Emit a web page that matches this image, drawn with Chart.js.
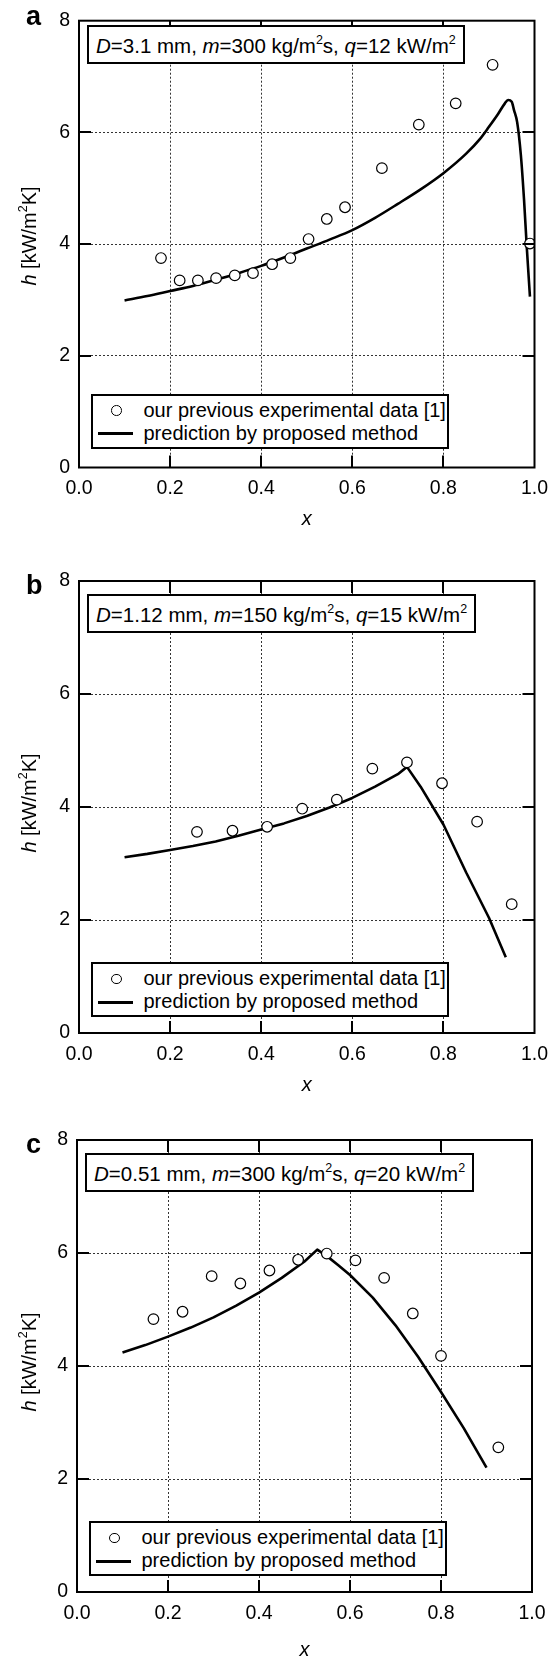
<!DOCTYPE html>
<html>
<head>
<meta charset="utf-8">
<script src="https://cdn.jsdelivr.net/npm/chart.js@4/dist/chart.umd.min.js"></script>
<style>
html,body{margin:0;padding:0;background:#fff;}
#wrap{position:relative;width:560px;height:1662px;overflow:hidden;font-family:"Liberation Sans",Arial,Helvetica,sans-serif;color:#000;}
#wrap canvas{position:absolute;left:0;}
.ov{position:absolute;white-space:nowrap;z-index:2;}
.cond{border:2px solid #000;background:#fff;box-sizing:border-box;height:39px;padding:3px 7px 0 7px;line-height:32px;font-size:20.5px;}
.leg{border:2px solid #000;background:#fff;box-sizing:border-box;width:358px;height:55px;font-size:20px;}
.leg .t{position:absolute;left:51px;line-height:20px;}
.leg .c{position:absolute;width:10.6px;height:10.6px;border:1.2px solid #000;border-radius:50%;box-sizing:border-box;background:#fff;}
.leg .l{position:absolute;width:35px;height:3px;background:#000;}
.sup{font-size:12.5px;position:relative;top:-0.7em;line-height:0;}
.ytitle{font-size:20px;transform:translate(-50%,-50%) rotate(-90deg);}
.letter{font-size:27px;font-weight:bold;line-height:27px;}
</style>
</head>
<body>
<div id="wrap"></div>
<script>
// ---------------- DATA ----------------
const panelLetters = ['a', 'b', 'c'];
const condD = ['3.1', '1.12', '0.51'];
const condM = ['300', '150', '300'];
const condQ = ['12', '15', '20'];
const legendLabels = ['our previous experimental data [1]', 'prediction by proposed method'];
const xTickLabels = ['0.0', '0.2', '0.4', '0.6', '0.8', '1.0'];
const yTickLabels = ['0', '2', '4', '6', '8'];
const xTitle = 'x';

// panel a
const expXA = [0.180, 0.221, 0.261, 0.301, 0.342, 0.382, 0.424, 0.464, 0.504, 0.544, 0.584, 0.665, 0.746, 0.827, 0.908, 0.990];
const expHA = [3.75, 3.35, 3.35, 3.39, 3.44, 3.48, 3.64, 3.75, 4.09, 4.45, 4.66, 5.36, 6.14, 6.52, 7.21, 4.01];
const predXA = [0.10, 0.15, 0.20, 0.25, 0.30, 0.35, 0.40, 0.45, 0.50, 0.55, 0.60, 0.65, 0.70, 0.75, 0.80, 0.85, 0.88, 0.90, 0.92, 0.935, 0.942, 0.950, 0.955, 0.962, 0.970, 0.977, 0.983, 0.990];
const predHA = [2.99, 3.07, 3.16, 3.25, 3.36, 3.48, 3.61, 3.76, 3.92, 4.08, 4.25, 4.47, 4.72, 4.98, 5.27, 5.62, 5.88, 6.10, 6.33, 6.52, 6.58, 6.55, 6.40, 6.18, 5.60, 4.80, 3.95, 3.06];

// panel b
const expXB = [0.259, 0.337, 0.413, 0.490, 0.566, 0.644, 0.720, 0.797, 0.874, 0.950];
const expHB = [3.56, 3.58, 3.65, 3.97, 4.13, 4.68, 4.79, 4.42, 3.74, 2.28];
const predXB = [0.10, 0.15, 0.20, 0.25, 0.30, 0.35, 0.40, 0.45, 0.50, 0.55, 0.60, 0.65, 0.70, 0.72, 0.75, 0.80, 0.85, 0.90, 0.937];
const predHB = [3.11, 3.17, 3.24, 3.31, 3.39, 3.49, 3.60, 3.71, 3.84, 3.99, 4.16, 4.36, 4.58, 4.71, 4.36, 3.69, 2.84, 2.04, 1.34];

// panel c
const expXC = [0.168, 0.232, 0.296, 0.359, 0.423, 0.486, 0.549, 0.612, 0.675, 0.738, 0.800, 0.926];
const expHC = [4.83, 4.96, 5.59, 5.46, 5.69, 5.88, 5.99, 5.87, 5.56, 4.93, 4.18, 2.56];
const predXC = [0.10, 0.15, 0.20, 0.25, 0.30, 0.35, 0.40, 0.45, 0.50, 0.528, 0.55, 0.575, 0.60, 0.65, 0.70, 0.75, 0.80, 0.85, 0.90];
const predHC = [4.24, 4.37, 4.52, 4.68, 4.86, 5.07, 5.30, 5.56, 5.85, 6.06, 5.94, 5.78, 5.61, 5.21, 4.72, 4.16, 3.54, 2.90, 2.20];

const expX = [expXA, expXB, expXC];
const expH = [expHA, expHB, expHC];
const predX = [predXA, predXB, predXC];
const predH = [predHA, predHB, predHC];
const predSmooth = [true, false, false];

// ---------------- LAYOUT ----------------
const FONT = '"Liberation Sans", Arial, Helvetica, sans-serif';
const layouts = [
  {top: 0,    h: 545, L: 79, R: 534.5, T: 12.5, B: 467.5, tOff: 52, tickPad: 9},
  {top: 545,  h: 560, L: 79, R: 534.5, T: 36,   B: 488,   tOff: 52, tickPad: 10},
  {top: 1105, h: 557, L: 77, R: 532,   T: 35,   B: 487,   tOff: 59, tickPad: 10}
];

const framePlugin = {
  id: 'frameTicks',
  afterDatasetsDraw(chart) {
    const {ctx, chartArea: a, scales: {x, y}} = chart;
    ctx.save();
    ctx.strokeStyle = '#000';
    ctx.lineWidth = 2;
    ctx.setLineDash([]);
    const tl = 12;
    ctx.beginPath();
    x.ticks.forEach(t => {
      if (t.value <= x.min + 1e-9 || t.value >= x.max - 1e-9) return;
      const px = Math.round(x.getPixelForValue(t.value));
      ctx.moveTo(px, a.bottom); ctx.lineTo(px, a.bottom - tl);
      ctx.moveTo(px, a.top); ctx.lineTo(px, a.top + tl);
    });
    y.ticks.forEach(t => {
      if (t.value <= y.min + 1e-9 || t.value >= y.max - 1e-9) return;
      const py = Math.round(y.getPixelForValue(t.value));
      ctx.moveTo(a.left, py); ctx.lineTo(a.left + tl, py);
      ctx.moveTo(a.right, py); ctx.lineTo(a.right - tl, py);
    });
    ctx.stroke();
    ctx.strokeRect(a.left, a.top, a.right - a.left, a.bottom - a.top);
    ctx.restore();
  }
};

const wrap = document.getElementById('wrap');

function addDiv(cls, html, left, top, extraStyle) {
  const d = document.createElement('div');
  d.className = 'ov ' + cls;
  d.innerHTML = html;
  d.style.left = left + 'px';
  d.style.top = top + 'px';
  if (extraStyle) Object.assign(d.style, extraStyle);
  wrap.appendChild(d);
  return d;
}

function makePanel(i) {
  const P = layouts[i];
  const cv = document.createElement('canvas');
  cv.width = 560; cv.height = P.h;
  cv.style.top = P.top + 'px';
  cv.style.width = '560px'; cv.style.height = P.h + 'px';
  wrap.appendChild(cv);

  const expData = expX[i].map((v, k) => ({x: v, y: expH[i][k]}));
  const predData = predX[i].map((v, k) => ({x: v, y: predH[i][k]}));
  const titlePad = Math.max(0, P.h - P.B - P.tOff - 12);

  new Chart(cv, {
    type: 'scatter',
    data: {
      datasets: [
        {
          label: legendLabels[0], data: expData, showLine: false,
          pointStyle: 'circle', pointRadius: 5.3, pointBorderWidth: 1.2,
          pointBorderColor: '#000', pointBackgroundColor: '#fff', order: 0
        },
        {
          label: legendLabels[1], data: predData, showLine: true,
          borderColor: '#000', borderWidth: 2.6, pointRadius: 0, fill: false,
          cubicInterpolationMode: predSmooth[i] ? 'monotone' : 'default', tension: 0,
          borderJoinStyle: 'round', borderCapStyle: 'butt', order: 1
        }
      ]
    },
    options: {
      responsive: false, animation: false, devicePixelRatio: 1,
      layout: {padding: {left: 0, top: P.T, right: 560 - P.R, bottom: 0}},
      plugins: {legend: {display: false}, tooltip: {enabled: false}, title: {display: false}},
      scales: {
        x: {
          type: 'linear', min: 0, max: 1,
          ticks: {stepSize: 0.2, color: '#000', padding: P.tickPad, maxRotation: 0,
                  font: {family: FONT, size: 19.5},
                  callback: (v, idx) => xTickLabels[idx]},
          grid: {color: '#333', lineWidth: 1, drawTicks: false},
          border: {display: false, dash: [2, 2]},
          title: {display: true, text: xTitle, color: '#000',
                  font: {family: FONT, size: 20, style: 'italic'},
                  padding: {top: 0, bottom: titlePad}},
          afterFit: s => { s.height = P.h - P.B; }
        },
        y: {
          type: 'linear', min: 0, max: 8,
          ticks: {stepSize: 2, color: '#000', padding: 9,
                  font: {family: FONT, size: 19.5},
                  callback: (v, idx) => yTickLabels[idx]},
          grid: {color: '#333', lineWidth: 1, drawTicks: false},
          border: {display: false, dash: [2, 2]},
          afterFit: s => { s.width = P.L; }
        }
      }
    },
    plugins: [framePlugin]
  });

  const absT = P.top + P.T, absB = P.top + P.B;
  addDiv('letter', panelLetters[i], 26, absT - 9.5);
  addDiv('ytitle', '<i>h</i> [kW/m<span class="sup">2</span>K]', 28.6, (absT + absB) / 2 - 4);
  addDiv('cond', '<i>D</i>=' + condD[i] + ' mm, <i>m</i>=' + condM[i] + ' kg/m<span class="sup">2</span>s, <i>q</i>=' + condQ[i] + ' kW/m<span class="sup">2</span>',
         P.L + 8, absT + 12.5);
  const lg = addDiv('leg', '', P.L + 11.5, absT + 381);
  lg.innerHTML =
    '<div class="c" style="left:' + (26 - 2 - 5.3) + 'px;top:' + (17.2 - 2 - 5.3) + 'px"></div>' +
    '<div class="t" style="top:' + (17.2 - 2 - 11) + 'px">' + legendLabels[0] + '</div>' +
    '<div class="l" style="left:' + (7 - 2) + 'px;top:' + (40 - 2 - 1.5) + 'px"></div>' +
    '<div class="t" style="top:' + (40 - 2 - 11) + 'px">' + legendLabels[1] + '</div>';
}

for (let i = 0; i < 3; i++) makePanel(i);
</script>
</body>
</html>
